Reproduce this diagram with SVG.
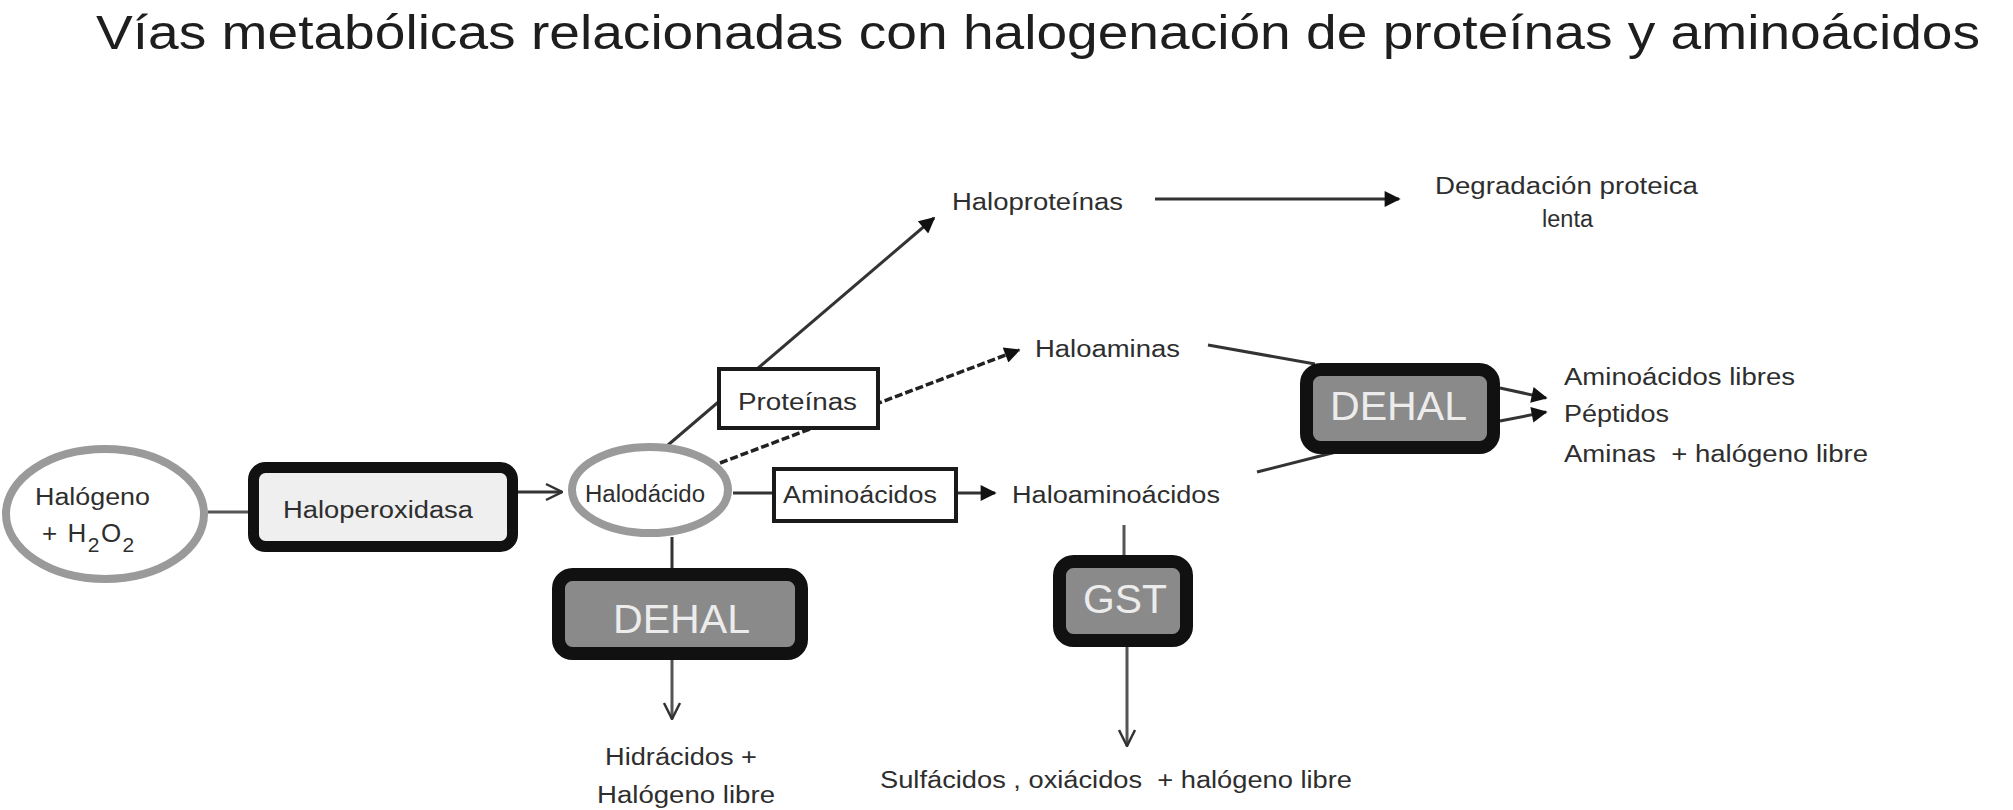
<svg xmlns="http://www.w3.org/2000/svg" width="2013" height="810" viewBox="0 0 2013 810">
<defs>
<style>
text{font-family:"Liberation Sans",Arial,Helvetica,sans-serif;fill:#2e2e2e}
.lbl{font-size:23px}
.title{font-size:48px;fill:#1e1e1e}
.enz{font-size:40px;fill:#ececec}
.ell{fill:#fff;stroke:#9a9a9a;stroke-width:8}
.box{fill:#fff;stroke:#1a1a1a;stroke-width:4}
.dark{fill:#8a8a8a;stroke:#111;stroke-width:13}
.perox{fill:#efefef;stroke:#111;stroke-width:11}
.ln{stroke:#333;stroke-width:3;fill:none}
.gl{stroke:#555;stroke-width:3;fill:none}
.dash{stroke:#222;stroke-width:3.5;fill:none;stroke-dasharray:8 3}
</style>
<marker id="fa" viewBox="0 0 10 10" refX="9" refY="5" markerWidth="20" markerHeight="16" markerUnits="userSpaceOnUse" orient="auto">
<path d="M0,0 L10,5 L0,10 z" fill="#111"/>
</marker>
<marker id="oa" viewBox="0 0 20 20" refX="19" refY="10" markerWidth="20" markerHeight="20" markerUnits="userSpaceOnUse" orient="auto">
<path d="M3,2 L19,10 L3,18" fill="none" stroke="#333" stroke-width="2.5"/>
</marker>
</defs>
<rect width="2013" height="810" fill="#fff"/>
<text class="title" x="96" y="49" textLength="1884" lengthAdjust="spacingAndGlyphs">Vías metabólicas relacionadas con halogenación de proteínas y aminoácidos</text>

<g id="connectors">
<line class="gl" x1="208" y1="512" x2="248" y2="512"/>
<line class="ln" x1="518" y1="492" x2="562" y2="492" marker-end="url(#oa)"/>
<line class="ln" x1="733" y1="493" x2="772" y2="493"/>
<line class="ln" x1="958" y1="493" x2="995" y2="493" marker-end="url(#fa)"/>
<line class="ln" x1="668" y1="445" x2="934" y2="218" marker-end="url(#fa)"/>
<line class="dash" x1="720" y1="463" x2="1019" y2="350" marker-end="url(#fa)"/>
<line class="ln" x1="672" y1="537" x2="672" y2="568"/>
<line class="gl" x1="672" y1="660" x2="672" y2="719" marker-end="url(#oa)"/>
<line class="ln" x1="1155" y1="199" x2="1399" y2="199" marker-end="url(#fa)"/>
<line class="ln" x1="1208" y1="345" x2="1315" y2="364"/>
<line class="ln" x1="1257" y1="472" x2="1336" y2="452"/>
<line class="gl" x1="1124" y1="525" x2="1124" y2="555"/>
<line class="gl" x1="1127" y1="647" x2="1127" y2="746" marker-end="url(#oa)"/>
<line class="ln" x1="1500" y1="388" x2="1546" y2="398" marker-end="url(#fa)"/>
<line class="ln" x1="1500" y1="421" x2="1546" y2="412" marker-end="url(#fa)"/>
</g>

<g id="halogeno">
<ellipse class="ell" cx="105" cy="514" rx="99" ry="65"/>
<text class="lbl" x="35" y="505" textLength="115" lengthAdjust="spacingAndGlyphs">Halógeno</text>
<text x="42" y="542" font-size="26" letter-spacing="1.5">+ H<tspan dy="10" font-size="21">2</tspan><tspan dy="-10">O</tspan><tspan dy="10" font-size="21">2</tspan></text>
</g>

<g id="haloperoxidasa">
<rect class="perox" x="253.5" y="467.5" width="259" height="79" rx="12"/>
<text class="lbl" x="283" y="518" textLength="190" lengthAdjust="spacingAndGlyphs">Haloperoxidasa</text>
</g>

<g id="halodacido">
<ellipse class="ell" cx="650" cy="490" rx="78" ry="43"/>
<text class="lbl" x="585" y="502" textLength="120" lengthAdjust="spacingAndGlyphs">Halodácido</text>
</g>

<g id="proteinas">
<rect class="box" x="719" y="369" width="159" height="59"/>
<text class="lbl" x="738" y="410" textLength="119" lengthAdjust="spacingAndGlyphs">Proteínas</text>
</g>

<g id="aminoacidos">
<rect class="box" x="774" y="469" width="182" height="52"/>
<text class="lbl" x="783" y="503" textLength="154" lengthAdjust="spacingAndGlyphs">Aminoácidos</text>
</g>

<g id="haloproteinas">
<text class="lbl" x="952" y="210" textLength="171" lengthAdjust="spacingAndGlyphs">Haloproteínas</text>
</g>

<g id="degradacion">
<text class="lbl" x="1435" y="194" textLength="263" lengthAdjust="spacingAndGlyphs">Degradación proteica</text>
<text class="lbl" x="1542" y="227" textLength="51" lengthAdjust="spacingAndGlyphs">lenta</text>
</g>

<g id="haloaminas">
<text class="lbl" x="1035" y="357" textLength="145" lengthAdjust="spacingAndGlyphs">Haloaminas</text>
</g>

<g id="haloaminoacidos">
<text class="lbl" x="1012" y="503" textLength="208" lengthAdjust="spacingAndGlyphs">Haloaminoácidos</text>
</g>

<g id="dehal-bottom">
<rect class="dark" x="558.5" y="574.5" width="243" height="79" rx="14"/>
<text class="enz" x="613" y="633" textLength="137" lengthAdjust="spacingAndGlyphs">DEHAL</text>
</g>

<g id="dehal-right">
<rect class="dark" x="1306.5" y="369.5" width="187" height="78" rx="14"/>
<text class="enz" x="1330" y="420" textLength="137" lengthAdjust="spacingAndGlyphs">DEHAL</text>
</g>

<g id="gst">
<rect class="dark" x="1059.5" y="561.5" width="127" height="79" rx="14"/>
<text class="enz" x="1083" y="613" textLength="84" lengthAdjust="spacingAndGlyphs">GST</text>
</g>

<g id="productos-dehal-right">
<text class="lbl" x="1564" y="385" textLength="231" lengthAdjust="spacingAndGlyphs">Aminoácidos libres</text>
<text class="lbl" x="1564" y="422" textLength="105" lengthAdjust="spacingAndGlyphs">Péptidos</text>
<text class="lbl" x="1564" y="462" textLength="304" lengthAdjust="spacingAndGlyphs" xml:space="preserve">Aminas  + halógeno libre</text>
</g>

<g id="hidracidos">
<text class="lbl" x="605" y="765" textLength="152" lengthAdjust="spacingAndGlyphs">Hidrácidos +</text>
<text class="lbl" x="597" y="803" textLength="178" lengthAdjust="spacingAndGlyphs">Halógeno libre</text>
</g>

<g id="sulfacidos">
<text class="lbl" x="880" y="788" textLength="472" lengthAdjust="spacingAndGlyphs" xml:space="preserve">Sulfácidos , oxiácidos  + halógeno libre</text>
</g>
</svg>
